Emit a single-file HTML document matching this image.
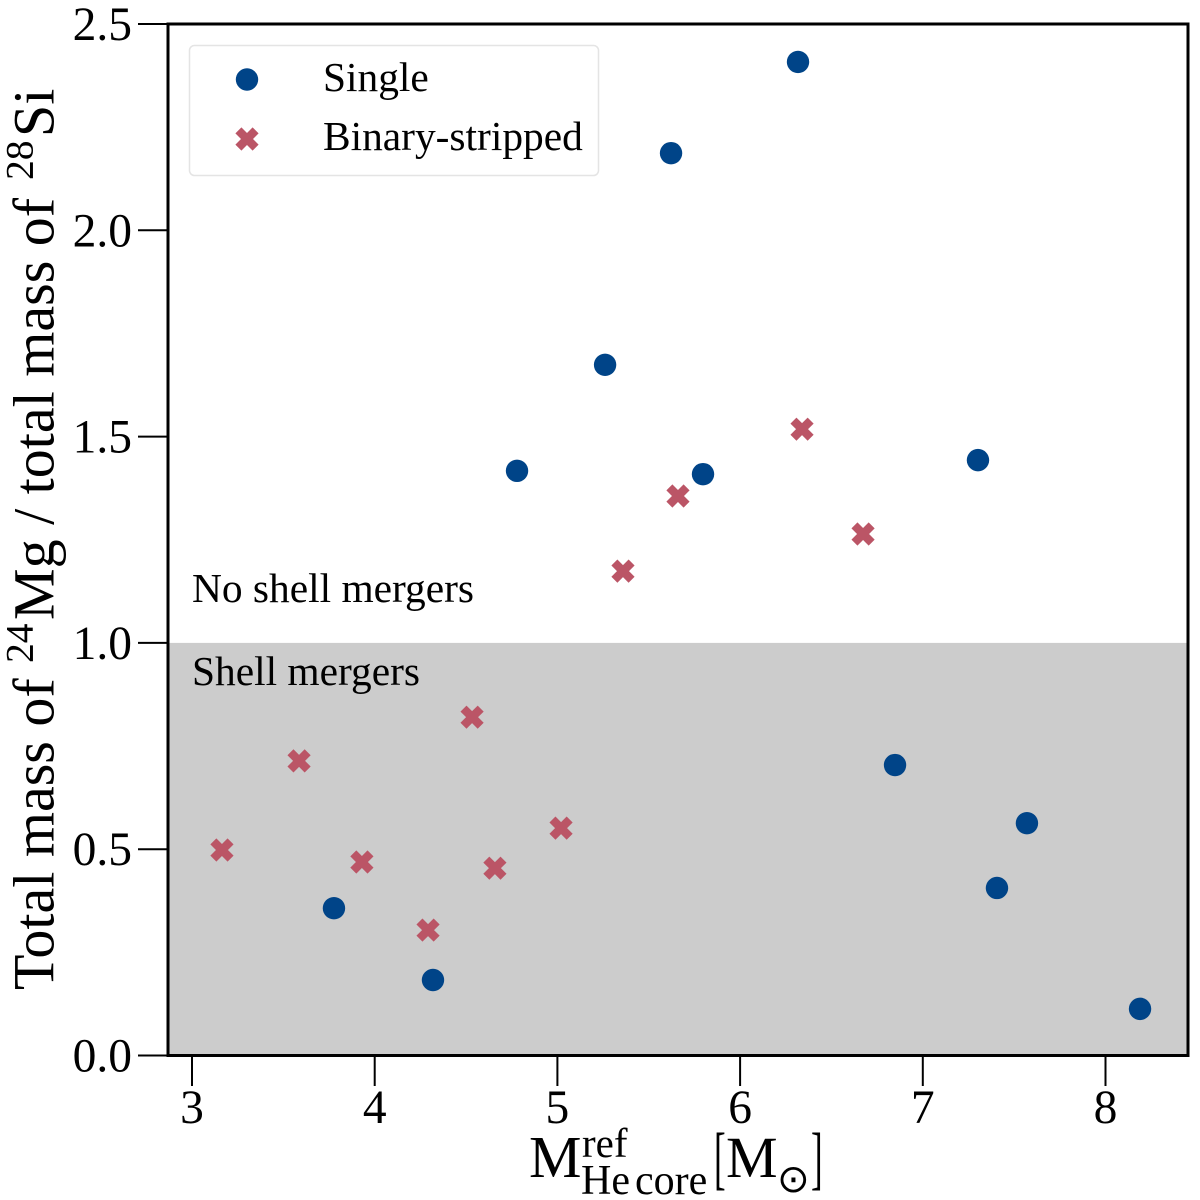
<!DOCTYPE html>
<html>
<head>
<meta charset="utf-8">
<title>Mg/Si mass ratio vs He core mass</title>
<style>
html,body{margin:0;padding:0;background:#fff;width:1200px;height:1200px;overflow:hidden}
svg{display:block}
text{font-family:"Liberation Serif","DejaVu Serif",serif;fill:#000}
</style>
</head>
<body>
<svg id="chart" xmlns="http://www.w3.org/2000/svg" width="1200" height="1200" viewBox="0 0 1200 1200">
  <rect x="0" y="0" width="1200" height="1200" fill="#fff"/>
  <g id="regions"></g>
  <g id="marks"></g>
  <rect x="168" y="24" width="1020" height="1031.5" fill="none" stroke="#000" stroke-width="3"/>
  <g id="ticks"></g>

  <text x="192" y="602" font-size="41.4">No shell mergers</text>
  <text x="192" y="685" font-size="41.4">Shell mergers</text>

  <g>
    <rect x="189.5" y="45.5" width="409" height="130" rx="5" ry="5" fill="#fff" stroke="#e4e4e4" stroke-width="1.5"/>
    <g id="legend-markers"></g>
    <text x="323" y="91" font-size="41.4">Single</text>
    <text x="323" y="150" font-size="41.4">Binary-stripped</text>
  </g>

  <text transform="translate(53.5,990) rotate(-90)" font-size="58">Total mass of <tspan x="327" font-size="39.5" dy="-21">24</tspan><tspan x="370" dy="21">Mg / total mass of </tspan><tspan x="810" font-size="39.5" dy="-21">28</tspan><tspan x="853" dy="21">Si</tspan></text>

  <g>
    <text x="529" y="1177" font-size="59">M</text>
    <text x="582" y="1157" font-size="41">ref</text>
    <text x="581" y="1194" font-size="42">He<tspan dx="5">core</tspan></text>
    <text transform="translate(714,1181) scale(0.5,1)" font-size="70">[</text>
    <text x="726" y="1177" font-size="58">M</text>
    <text x="777" y="1192" font-size="39" style="font-family:'DejaVu Sans',sans-serif">⊙</text>
    <text transform="translate(811,1181) scale(0.5,1)" font-size="70">]</text>
  </g>
</svg>
<script>
const xTicks = [3, 4, 5, 6, 7, 8];
const yTicks = [0, 0.5, 1, 1.5, 2, 2.5];
const yTickLabels = ["0.0", "0.5", "1.0", "1.5", "2.0", "2.5"];
const shellThreshold = 1.0;
const singleX = [6.317, 5.622, 5.261, 4.779, 5.797, 7.302, 6.848, 7.570, 7.406, 8.189, 3.777, 4.319];
const singleY = [2.408, 2.187, 1.674, 1.417, 1.409, 1.443, 0.704, 0.563, 0.406, 0.113, 0.357, 0.183];
const binaryX = [6.339, 5.660, 6.673, 5.359, 4.533, 3.586, 3.164, 3.930, 4.658, 5.020, 4.292];
const binaryY = [1.518, 1.356, 1.264, 1.174, 0.820, 0.714, 0.498, 0.469, 0.454, 0.551, 0.304];

const NS = 'http://www.w3.org/2000/svg';
const sx = v => 192 + (v - 3) * 182.7;
const sy = v => 1055.5 - v * 412.6;
const xPlotRight = 1188, xPlotLeft = 168;
const xMarkPath = (cx, cy) => {
  const a = 11.6, b = 6;
  return 'M' + (cx - a + b) + ' ' + (cy - a) + 'L' + cx + ' ' + (cy - b) + 'L' + (cx + a - b) + ' ' + (cy - a) +
    'L' + (cx + a) + ' ' + (cy - a + b) + 'L' + (cx + b) + ' ' + cy + 'L' + (cx + a) + ' ' + (cy + a - b) +
    'L' + (cx + a - b) + ' ' + (cy + a) + 'L' + cx + ' ' + (cy + b) + 'L' + (cx - a + b) + ' ' + (cy + a) +
    'L' + (cx - a) + ' ' + (cy + a - b) + 'L' + (cx - b) + ' ' + cy + 'L' + (cx - a) + ' ' + (cy - a + b) + 'Z';
};

const regions = document.getElementById('regions');
const band = document.createElementNS(NS, 'rect');


band.setAttribute('x', xPlotLeft);
band.setAttribute('y', sy(shellThreshold));
band.setAttribute('width', xPlotRight - xPlotLeft);
band.setAttribute('height', sy(0) - sy(shellThreshold));
band.setAttribute('fill', '#cccccc');
regions.appendChild(band);

const ticks = document.getElementById('ticks');
xTicks.forEach(function (t) {
  const line = document.createElementNS(NS, 'line');
  
  
  line.setAttribute('x1', sx(t));
  line.setAttribute('x2', sx(t));
  line.setAttribute('y1', 1056);
  line.setAttribute('y2', 1086);
  line.setAttribute('stroke', '#000');
  line.setAttribute('stroke-width', '2');
  ticks.appendChild(line);
  const label = document.createElementNS(NS, 'text');
  
  
  label.setAttribute('x', sx(t));
  label.setAttribute('y', 1123);
  label.setAttribute('font-size', '47.5');
  label.setAttribute('text-anchor', 'middle');
  label.textContent = String(t);
  ticks.appendChild(label);
});
yTicks.forEach(function (t, i) {
  const line = document.createElementNS(NS, 'line');
  
  
  line.setAttribute('x1', 138);
  line.setAttribute('x2', 168);
  line.setAttribute('y1', sy(t));
  line.setAttribute('y2', sy(t));
  line.setAttribute('stroke', '#000');
  line.setAttribute('stroke-width', '2');
  ticks.appendChild(line);
  const label = document.createElementNS(NS, 'text');
  
  
  label.setAttribute('x', 132);
  label.setAttribute('y', sy(t) + 16);
  label.setAttribute('font-size', '47.5');
  label.setAttribute('text-anchor', 'end');
  label.textContent = yTickLabels[i];
  ticks.appendChild(label);
});

const marks = document.getElementById('marks');
singleX.forEach(function (x, i) {
  const c = document.createElementNS(NS, 'circle');
  
  
  c.setAttribute('cx', sx(x));
  c.setAttribute('cy', sy(singleY[i]));
  c.setAttribute('r', 11.2);
  c.setAttribute('fill', '#004488');
  marks.appendChild(c);
});
binaryX.forEach(function (x, i) {
  const p = document.createElementNS(NS, 'path');
  
  
  p.setAttribute('d', xMarkPath(sx(x), sy(binaryY[i])));
  p.setAttribute('fill', '#bb5566');
  marks.appendChild(p);
});

const legendMarkers = document.getElementById('legend-markers');
const legendCircle = document.createElementNS(NS, 'circle');


legendCircle.setAttribute('cx', 247);
legendCircle.setAttribute('cy', 79.5);
legendCircle.setAttribute('r', 11.2);
legendCircle.setAttribute('fill', '#004488');
legendMarkers.appendChild(legendCircle);
const legendX = document.createElementNS(NS, 'path');


legendX.setAttribute('d', xMarkPath(247, 139));
legendX.setAttribute('fill', '#bb5566');
legendMarkers.appendChild(legendX);
</script>
</body>
</html>
